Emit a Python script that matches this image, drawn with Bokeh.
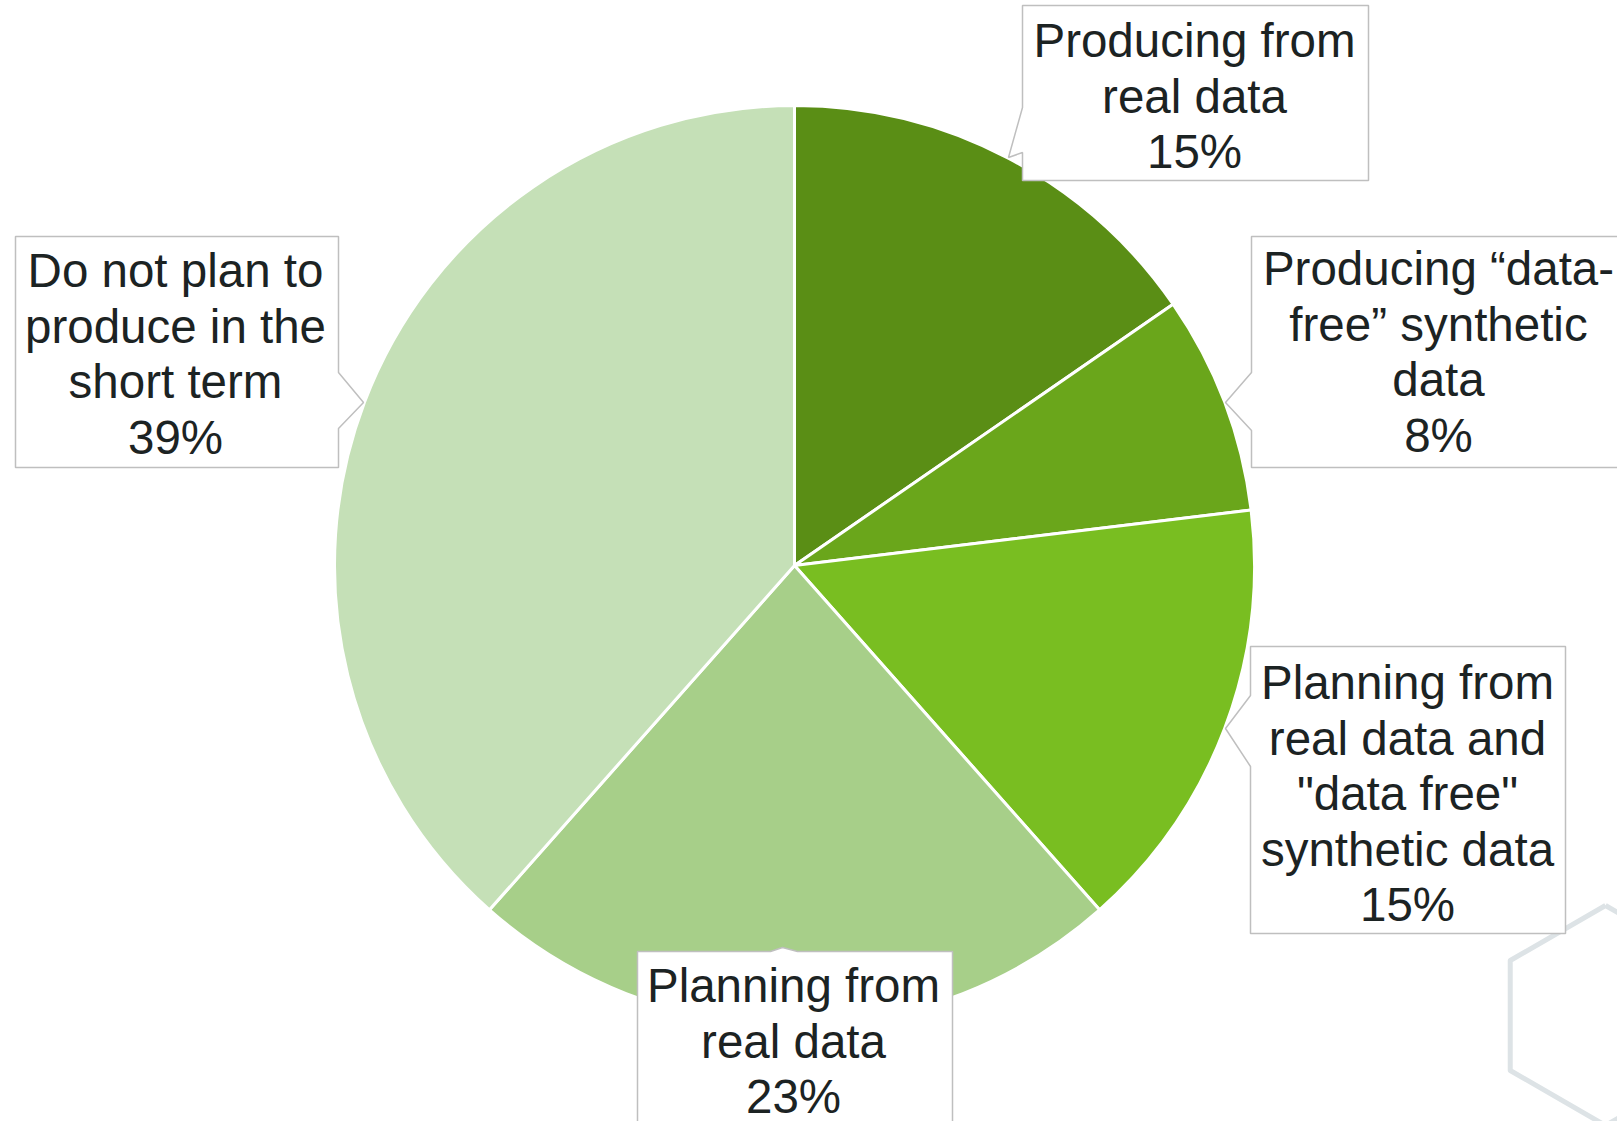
from bokeh.plotting import figure
from bokeh.models import Range1d, ColumnDataSource
from bokeh.embed import file_html
from bokeh.resources import INLINE
from bokeh.core.properties import value
import math

# ---- data ----
categories = [
    "Producing from\nreal data",
    "Producing \u201cdata-\nfree\u201d synthetic\ndata",
    "Planning from\nreal data and\n\"data free\"\nsynthetic data",
    "Planning from\nreal data",
    "Do not plan to\nproduce in the\nshort term",
]
shares = [15.4, 7.7, 15.4, 23.1, 38.5]
pct_labels = ["15%", "8%", "15%", "23%", "39%"]
colors = ["#5A8E15", "#6AA61B", "#79BE21", "#A7CF89", "#C5E0B7"]

# ---- layout (pixel coords, y down) ----
W, H = 1617, 1121
CX, CY, R = 794, 565, 460

def Y(y):
    return H - y

p = figure(width=W, height=H, x_range=Range1d(0, W), y_range=Range1d(0, H),
           output_backend="svg", toolbar_location=None,
           x_axis_location=None, y_axis_location=None, min_border=0,
           background_fill_color="white", border_fill_color="white")
p.grid.visible = False
p.outline_line_color = None

# hexagon decoration (bottom right)
hx, hy, hr = 1605, 1015, 110
hxs = [hx + hr * math.cos(math.radians(90 + 60 * k)) for k in range(7)]
hys = [Y(hy) + hr * math.sin(math.radians(90 + 60 * k)) for k in range(7)]
p.line(hxs, hys, line_color="#DDE3E6", line_width=5, line_join="round")

# pie
total = sum(shares)
starts, ends = [], []
cum = 0
for s in shares:
    a0 = 2 * math.pi * cum / total
    cum += s
    a1 = 2 * math.pi * cum / total
    starts.append(math.pi / 2 - a0)
    ends.append(math.pi / 2 - a1)
src = ColumnDataSource(dict(start=starts, end=ends, color=colors))
p.wedge(x=CX, y=Y(CY), radius=R, start_angle="start", end_angle="end",
        direction="clock", fill_color="color", line_color="white",
        line_width=3, source=src)

# callout boxes: polygon outlines in pixel coords
boxes = [
    [(1022, 5), (1368, 5), (1368, 180), (1022, 180), (1022, 152), (1008, 157), (1022, 107)],
    [(1251, 236), (1640, 236), (1640, 467), (1251, 467), (1251, 430), (1225, 402), (1251, 372)],
    [(1250, 646), (1565, 646), (1565, 933), (1250, 933), (1250, 766), (1225, 728), (1250, 695)],
    [(637, 951), (770, 951), (782, 947), (797, 951), (952, 951), (952, 1140), (637, 1140)],
    [(15, 236), (338, 236), (338, 372), (363, 402), (338, 428), (338, 467), (15, 467)],
]
p.patches([[pt[0] for pt in b] for b in boxes], [[Y(pt[1]) for pt in b] for b in boxes],
          fill_color="white", line_color="#BFBFBF", line_width=1.5)

# label text positions (center x, first line y)
text_pos = [(1194, 40), (1438, 268), (1407, 682), (793, 985), (175, 270)]
LS = 55.5
tx, ty, tt = [], [], []
for cat, pct, (x0, y0) in zip(categories, pct_labels, text_pos):
    lines = cat.split("\n") + [pct]
    for i, ln in enumerate(lines):
        tx.append(x0)
        ty.append(Y(y0 + i * LS))
        tt.append(ln)
p.text(x=tx, y=ty, text=tt, text_align="center", text_baseline="middle",
       text_font=value("Liberation Sans"), text_font_size="47.5px",
       text_color="#1C2323")

open("out.html", "w").write(file_html(p, INLINE))
